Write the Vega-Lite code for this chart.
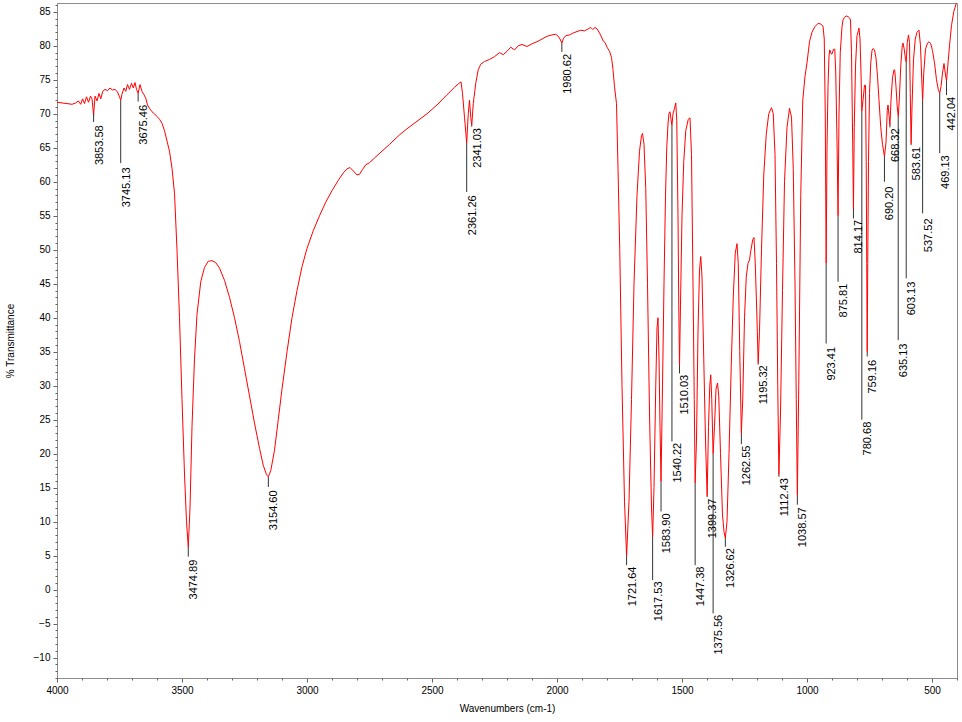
{
  "$schema": "https://vega.github.io/schema/vega-lite/v6.json",
  "width": 900,
  "height": 675,
  "autosize": {"type": "none"},
  "padding": {"left": 57, "top": 3, "right": 5, "bottom": 44},
  "background": "white",
  "config": {
    "view": {"stroke": "#8c8c8c", "strokeWidth": 1},
    "font": "Liberation Sans",
    "axis": {"grid": false, "labelFlush": false, "labelOverlap": false, "labelFont": "Liberation Sans", "titleFont": "Liberation Sans", "labelColor": "#000000", "titleColor": "#000000", "domainColor": "#8c8c8c", "tickColor": "#606060", "titleFontWeight": "normal"}
  },
  "datasets": {
    "spectrum": [
      {"w":4000,"t":71.7},{"w":3980,"t":71.6},{"w":3960,"t":71.5},{"w":3940,"t":71.4},{"w":3925,"t":71.6},{"w":3915,"t":71.9},{"w":3905,"t":71.4},{"w":3898,"t":72.2},{"w":3890,"t":71.5},{"w":3882,"t":72.5},{"w":3874,"t":71.7},{"w":3866,"t":72.6},{"w":3860,"t":72.2},{"w":3853.6,"t":69.8},{"w":3848,"t":72.6},{"w":3840,"t":71.9},{"w":3832,"t":73.0},{"w":3825,"t":72.2},{"w":3817,"t":73.3},{"w":3808,"t":73.6},{"w":3798,"t":73.4},{"w":3788,"t":73.8},{"w":3778,"t":73.5},{"w":3768,"t":73.6},{"w":3758,"t":73.2},{"w":3750,"t":72.5},{"w":3745.1,"t":72.0},{"w":3740,"t":72.9},{"w":3732,"t":73.8},{"w":3725,"t":73.3},{"w":3718,"t":74.3},{"w":3710,"t":73.6},{"w":3702,"t":74.5},{"w":3695,"t":73.8},{"w":3688,"t":74.6},{"w":3682,"t":73.6},{"w":3675.5,"t":73.0},{"w":3668,"t":74.3},{"w":3660,"t":73.3},{"w":3652,"t":72.8},{"w":3645,"t":72.3},{"w":3638,"t":71.3},{"w":3630,"t":70.8},{"w":3620,"t":70.3},{"w":3610,"t":70.0},{"w":3600,"t":69.6},{"w":3590,"t":69.2},{"w":3580,"t":68.6},{"w":3570,"t":67.5},{"w":3560,"t":66.0},{"w":3550,"t":64.5},{"w":3540,"t":62.0},{"w":3530,"t":58.3},{"w":3520,"t":50},{"w":3510,"t":40},{"w":3500,"t":28},{"w":3490,"t":17},{"w":3482,"t":10},{"w":3474.9,"t":6.3},{"w":3468,"t":12},{"w":3460,"t":24},{"w":3450,"t":34},{"w":3440,"t":40.5},{"w":3425,"t":45.3},{"w":3410,"t":47.4},{"w":3395,"t":48.3},{"w":3380,"t":48.4},{"w":3365,"t":48.1},{"w":3350,"t":47.3},{"w":3330,"t":45.5},{"w":3310,"t":43},{"w":3290,"t":40},{"w":3270,"t":36.5},{"w":3250,"t":32.5},{"w":3230,"t":28.5},{"w":3210,"t":24.5},{"w":3190,"t":20.8},{"w":3175,"t":18.3},{"w":3162,"t":16.9},{"w":3154.6,"t":16.6},{"w":3145,"t":17.5},{"w":3130,"t":20.5},{"w":3115,"t":25},{"w":3100,"t":29.5},{"w":3080,"t":35},{"w":3060,"t":40},{"w":3040,"t":44},{"w":3020,"t":47.5},{"w":3000,"t":50.2},{"w":2975,"t":52.8},{"w":2950,"t":55},{"w":2925,"t":57},{"w":2900,"t":58.7},{"w":2875,"t":60.2},{"w":2855,"t":61.3},{"w":2840,"t":61.9},{"w":2828,"t":62.1},{"w":2815,"t":61.6},{"w":2800,"t":61},{"w":2790,"t":61.1},{"w":2778,"t":61.8},{"w":2765,"t":62.5},{"w":2750,"t":62.8},{"w":2730,"t":63.5},{"w":2700,"t":64.5},{"w":2670,"t":65.5},{"w":2630,"t":66.9},{"w":2600,"t":67.8},{"w":2560,"t":68.9},{"w":2520,"t":70},{"w":2480,"t":71.3},{"w":2440,"t":72.8},{"w":2410,"t":73.9},{"w":2395,"t":74.4},{"w":2384,"t":74.7},{"w":2378,"t":73},{"w":2370,"t":69.5},{"w":2361.3,"t":65.7},{"w":2355,"t":70},{"w":2350,"t":72},{"w":2345,"t":69.5},{"w":2341,"t":68.3},{"w":2335,"t":71.5},{"w":2325,"t":74.5},{"w":2315,"t":76.5},{"w":2305,"t":77.3},{"w":2290,"t":77.7},{"w":2270,"t":78},{"w":2250,"t":78.4},{"w":2230,"t":79},{"w":2215,"t":78.7},{"w":2200,"t":79.2},{"w":2185,"t":79.8},{"w":2170,"t":79.4},{"w":2155,"t":80},{"w":2140,"t":80.2},{"w":2120,"t":79.9},{"w":2100,"t":80.3},{"w":2080,"t":80.6},{"w":2060,"t":81},{"w":2040,"t":81.4},{"w":2020,"t":81.6},{"w":2005,"t":81.7},{"w":1995,"t":81.4},{"w":1988,"t":81.0},{"w":1980.6,"t":80.4},{"w":1974,"t":81.1},{"w":1965,"t":81.5},{"w":1950,"t":81.6},{"w":1935,"t":81.9},{"w":1920,"t":82.1},{"w":1905,"t":82.3},{"w":1890,"t":82.2},{"w":1875,"t":82.5},{"w":1865,"t":82.7},{"w":1857,"t":82.4},{"w":1848,"t":82.7},{"w":1840,"t":82.5},{"w":1830,"t":81.9},{"w":1822,"t":81.3},{"w":1815,"t":80.7},{"w":1808,"t":80.5},{"w":1800,"t":79.8},{"w":1790,"t":79.2},{"w":1782,"t":78.3},{"w":1776,"t":76.5},{"w":1770,"t":74},{"w":1762,"t":71.5},{"w":1756,"t":62},{"w":1749,"t":50},{"w":1740,"t":30},{"w":1730,"t":13},{"w":1721.6,"t":4.9},{"w":1712,"t":13},{"w":1702,"t":28},{"w":1692,"t":45},{"w":1680,"t":58},{"w":1670,"t":64.5},{"w":1662,"t":66.8},{"w":1658,"t":67.1},{"w":1652,"t":65.5},{"w":1645,"t":59},{"w":1638,"t":45},{"w":1630,"t":26},{"w":1622,"t":12},{"w":1617.5,"t":7.8},{"w":1612,"t":15},{"w":1605,"t":30},{"w":1600,"t":38.5},{"w":1596,"t":40},{"w":1592,"t":34},{"w":1588,"t":24},{"w":1583.9,"t":15.9},{"w":1578,"t":30},{"w":1572,"t":45},{"w":1566,"t":58},{"w":1561,"t":65},{"w":1556,"t":68.5},{"w":1552,"t":70.1},{"w":1548,"t":70.3},{"w":1544,"t":69.2},{"w":1540.2,"t":68.3},{"w":1536,"t":70},{"w":1530,"t":70.8},{"w":1525,"t":71.6},{"w":1521,"t":69},{"w":1516,"t":55},{"w":1513,"t":42},{"w":1510,"t":32.9},{"w":1506,"t":42},{"w":1500,"t":55},{"w":1493,"t":63},{"w":1485,"t":67.5},{"w":1475,"t":69.2},{"w":1468,"t":69.4},{"w":1462,"t":64},{"w":1456,"t":45},{"w":1451,"t":28},{"w":1447.4,"t":15.7},{"w":1442,"t":22},{"w":1436,"t":38},{"w":1430,"t":47},{"w":1425,"t":49},{"w":1420,"t":46},{"w":1413,"t":34},{"w":1406,"t":22},{"w":1399.4,"t":13.8},{"w":1394,"t":24},{"w":1389,"t":30},{"w":1385,"t":31.6},{"w":1381,"t":28},{"w":1375.6,"t":20},{"w":1370,"t":24},{"w":1364,"t":29.5},{"w":1358,"t":30.4},{"w":1353,"t":28.5},{"w":1346,"t":20},{"w":1338,"t":11},{"w":1332,"t":8.5},{"w":1326.6,"t":7.6},{"w":1320,"t":10},{"w":1312,"t":20},{"w":1303,"t":33},{"w":1295,"t":43},{"w":1287,"t":49.5},{"w":1280,"t":50.9},{"w":1275,"t":48},{"w":1269,"t":35},{"w":1262.6,"t":23},{"w":1257,"t":28},{"w":1250,"t":40},{"w":1243,"t":46},{"w":1236,"t":48},{"w":1230,"t":48.5},{"w":1224,"t":50},{"w":1217,"t":51.5},{"w":1212,"t":51.8},{"w":1207,"t":48},{"w":1201,"t":41},{"w":1195.3,"t":33.3},{"w":1190,"t":38},{"w":1182,"t":50},{"w":1173,"t":61},{"w":1163,"t":67},{"w":1153,"t":70},{"w":1142,"t":70.9},{"w":1135,"t":70},{"w":1128,"t":64},{"w":1122,"t":48},{"w":1117,"t":30},{"w":1112.4,"t":16.9},{"w":1106,"t":26},{"w":1098,"t":44},{"w":1090,"t":60},{"w":1080,"t":68},{"w":1070,"t":70.8},{"w":1062,"t":69.5},{"w":1055,"t":62},{"w":1048,"t":45},{"w":1043,"t":28},{"w":1038.6,"t":13.9},{"w":1033,"t":30},{"w":1025,"t":58},{"w":1017,"t":72},{"w":1008,"t":75.5},{"w":1000,"t":77.5},{"w":990,"t":80.6},{"w":980,"t":82},{"w":969,"t":82.8},{"w":956,"t":83.3},{"w":945,"t":83.2},{"w":936,"t":82.9},{"w":931,"t":81},{"w":927,"t":70},{"w":923.4,"t":48},{"w":920,"t":65},{"w":916,"t":74},{"w":912,"t":78.5},{"w":909,"t":79.4},{"w":903,"t":78.8},{"w":900,"t":78.8},{"w":894,"t":79.5},{"w":889,"t":79.5},{"w":885,"t":76},{"w":880,"t":66},{"w":875.8,"t":55},{"w":872,"t":70},{"w":867,"t":79},{"w":860,"t":82.8},{"w":856,"t":83.8},{"w":850,"t":84.2},{"w":843,"t":84.4},{"w":836,"t":84.3},{"w":830,"t":84.1},{"w":826,"t":83.8},{"w":822,"t":79},{"w":817,"t":65},{"w":814.2,"t":56},{"w":811,"t":68},{"w":806,"t":77},{"w":800,"t":81.5},{"w":792,"t":82.6},{"w":788,"t":81},{"w":784,"t":76},{"w":780.7,"t":70.4},{"w":776,"t":72},{"w":770,"t":74.2},{"w":766,"t":74.2},{"w":763,"t":62},{"w":761,"t":48},{"w":759.2,"t":35},{"w":757,"t":48},{"w":754,"t":63},{"w":750,"t":73},{"w":745,"t":77.5},{"w":740,"t":79.3},{"w":736,"t":79.6},{"w":730,"t":79.4},{"w":724,"t":78.2},{"w":718,"t":75.5},{"w":712,"t":72},{"w":705,"t":68},{"w":698,"t":65.5},{"w":690.2,"t":63.7},{"w":684,"t":65.8},{"w":679,"t":70.5},{"w":676,"t":71.3},{"w":672,"t":69.8},{"w":668.3,"t":68.3},{"w":664,"t":72},{"w":658,"t":75.3},{"w":652,"t":76.5},{"w":649,"t":76.4},{"w":644,"t":74},{"w":639,"t":71},{"w":635,"t":69.6},{"w":631,"t":72},{"w":625,"t":77},{"w":619,"t":80},{"w":616,"t":80.4},{"w":611,"t":79.5},{"w":606,"t":78},{"w":603.1,"t":77.6},{"w":599,"t":80.5},{"w":594,"t":81.6},{"w":590,"t":80.5},{"w":587,"t":73},{"w":583.6,"t":65.6},{"w":580,"t":71},{"w":574,"t":78},{"w":567,"t":81},{"w":560,"t":82},{"w":552,"t":82.3},{"w":546,"t":80},{"w":541,"t":75},{"w":537.5,"t":72},{"w":533,"t":76},{"w":526,"t":79.5},{"w":518,"t":80.4},{"w":512,"t":80.6},{"w":505,"t":80.3},{"w":498,"t":79.3},{"w":490,"t":77.5},{"w":482,"t":75},{"w":475,"t":73.6},{"w":469.1,"t":73},{"w":464,"t":74},{"w":458,"t":76},{"w":452,"t":77.4},{"w":447,"t":76},{"w":442,"t":74.8},{"w":437,"t":77},{"w":430,"t":80},{"w":422,"t":83},{"w":413,"t":85},{"w":405,"t":86},{"w":400,"t":86.6}
    ],
    "peaks": [
      {"w":3853.58,"lab":"3853.58","p":70.0,"e":68.8,"t":68.3},
      {"w":3745.13,"lab":"3745.13","p":72.0,"e":62.75,"t":62.1},
      {"w":3675.46,"lab":"3675.46","p":73.0,"e":71.8,"t":71.3},
      {"w":3474.89,"lab":"3474.89","p":6.3,"e":4.85,"t":4.4},
      {"w":3154.60,"lab":"3154.60","p":16.6,"e":15.1,"t":14.6},
      {"w":2361.26,"lab":"2361.26","p":65.7,"e":58.5,"t":58.0},
      {"w":2341.03,"lab":"2341.03","p":68.3,"e":68.1,"t":67.9},
      {"w":1980.62,"lab":"1980.62","p":80.4,"e":79.1,"t":78.8},
      {"w":1721.64,"lab":"1721.64","p":4.9,"e":3.6,"t":3.4},
      {"w":1617.53,"lab":"1617.53","p":7.8,"e":1.4,"t":1.2},
      {"w":1583.90,"lab":"1583.90","p":15.9,"e":11.5,"t":11.2},
      {"w":1540.22,"lab":"1540.22","p":68.3,"e":21.8,"t":21.6},
      {"w":1510.03,"lab":"1510.03","p":32.9,"e":31.8,"t":31.6},
      {"w":1447.38,"lab":"1447.38","p":15.7,"e":3.6,"t":3.4},
      {"w":1399.37,"lab":"1399.37","p":13.8,"e":13.6,"t":13.4},
      {"w":1375.56,"lab":"1375.56","p":20.0,"e":-3.5,"t":-3.7},
      {"w":1326.62,"lab":"1326.62","p":7.6,"e":6.3,"t":6.1},
      {"w":1262.55,"lab":"1262.55","p":23.0,"e":21.4,"t":21.2},
      {"w":1195.32,"lab":"1195.32","p":33.3,"e":33.1,"t":33.0},
      {"w":1112.43,"lab":"1112.43","p":16.9,"e":16.6,"t":16.4},
      {"w":1038.57,"lab":"1038.57","p":13.9,"e":12.5,"t":12.1},
      {"w":923.41,"lab":"923.41","p":48.0,"e":36.2,"t":35.7},
      {"w":875.81,"lab":"875.81","p":55.0,"e":45.3,"t":45.0},
      {"w":814.17,"lab":"814.17","p":56.0,"e":54.6,"t":54.4},
      {"w":780.68,"lab":"780.68","p":70.4,"e":25.0,"t":24.7},
      {"w":759.16,"lab":"759.16","p":35.0,"e":34.3,"t":33.8},
      {"w":690.20,"lab":"690.20","p":63.7,"e":60.0,"t":59.3},
      {"w":668.32,"lab":"668.32","p":68.3,"e":68.0,"t":67.85},
      {"w":635.13,"lab":"635.13","p":69.6,"e":36.7,"t":36.2},
      {"w":603.13,"lab":"603.13","p":77.6,"e":45.8,"t":45.3},
      {"w":583.61,"lab":"583.61","p":65.6,"e":65.4,"t":65.15},
      {"w":537.52,"lab":"537.52","p":72.0,"e":55.35,"t":54.6},
      {"w":469.13,"lab":"469.13","p":73.0,"e":64.2,"t":63.9},
      {"w":442.04,"lab":"442.04","p":74.8,"e":72.75,"t":72.5}
    ]
  },
  "resolve": {"axis": {"x": "independent", "y": "independent"}},
  "layer": [
    {
      "data": {"name": "spectrum"},
      "mark": {"type": "line", "color": "#ff0000", "strokeWidth": 1, "clip": true, "interpolate": "linear"},
      "encoding": {
        "x": {"field": "w", "type": "quantitative", "scale": {"domain": [400, 4000], "reverse": true, "nice": false, "zero": false},
          "axis": {"orient": "bottom", "title": "Wavenumbers (cm-1)", "values": [4000,3500,3000,2500,2000,1500,1000,500], "format": "d", "labelFontSize": 10, "tickSize": 4, "labelPadding": 3, "titleFontSize": 10, "titleY": 30, "titleBaseline": "middle"}},
        "y": {"field": "t", "type": "quantitative", "scale": {"domain": [-13, 86.3], "nice": false, "zero": false},
          "axis": {"orient": "left", "title": "% Transmittance", "values": [-10,-5,0,5,10,15,20,25,30,35,40,45,50,55,60,65,70,75,80,85], "labelFontSize": 10, "tickSize": 4, "labelPadding": 3, "titleFontSize": 10, "titleX": -47, "titleBaseline": "middle"}}
      }
    },
    {
      "data": {"name": "peaks"},
      "mark": {"type": "rule", "color": "#333333", "strokeWidth": 1},
      "encoding": {
        "x": {"field": "w", "type": "quantitative", "axis": null},
        "y": {"field": "p", "type": "quantitative", "axis": null},
        "y2": {"field": "e"}
      }
    },
    {
      "data": {"name": "peaks"},
      "mark": {"type": "text", "angle": 270, "align": "right", "baseline": "top", "fontSize": 11, "font": "Liberation Sans", "color": "#000000"},
      "encoding": {
        "x": {"field": "w", "type": "quantitative",
          "axis": {"orient": "bottom", "title": null, "labels": false, "domain": false, "tickSize": 2, "values": [3900,3800,3700,3600,3400,3300,3200,3100,2900,2800,2700,2600,2400,2300,2200,2100,1900,1800,1700,1600,1400,1300,1200,1100,900,800,700,600,400]}},
        "y": {"field": "t", "type": "quantitative",
          "axis": {"orient": "left", "title": null, "labels": false, "domain": false, "tickSize": 2, "values": [-13,-12,-11,-9,-8,-7,-6,-4,-3,-2,-1,1,2,3,4,6,7,8,9,11,12,13,14,16,17,18,19,21,22,23,24,26,27,28,29,31,32,33,34,36,37,38,39,41,42,43,44,46,47,48,49,51,52,53,54,56,57,58,59,61,62,63,64,66,67,68,69,71,72,73,74,76,77,78,79,81,82,83,84,86]}},
        "text": {"field": "lab", "type": "nominal"}
      }
    }
  ]
}
